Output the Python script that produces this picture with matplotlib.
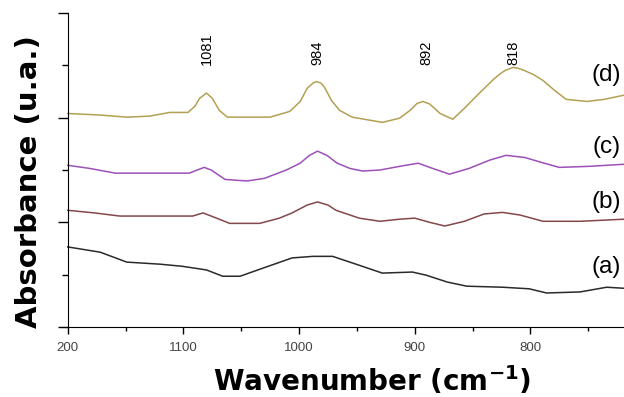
import numpy as np
import matplotlib
matplotlib.use('Agg')
import matplotlib.pyplot as plt
from matplotlib.ticker import MultipleLocator

plt.rcParams['font.family'] = ['Liberation Sans', 'DejaVu Sans']
plt.rcParams['mathtext.fontset'] = 'custom'
plt.rcParams['mathtext.rm'] = 'DejaVu Sans'
plt.rcParams['mathtext.bf'] = 'DejaVu Sans:bold'

# spectra (wavenumber, absorbance in plot units)
wn_d = [1200, 1172, 1149, 1129, 1112, 1096, 1090, 1086, 1080, 1075, 1069, 1062, 1043, 1025,
        1008, 999, 993, 988, 985, 981, 978, 972, 965, 954, 928, 913, 904, 898, 893, 887, 878, 867,
        857, 844, 837, 831, 826, 822, 815, 810, 805, 797, 789, 779, 769, 751, 736, 719]
abs_d = [4.08, 4.05, 4.01, 4.03, 4.10, 4.10, 4.22, 4.37, 4.47, 4.37, 4.14, 4.01, 4.01, 4.01,
         4.12, 4.31, 4.56, 4.66, 4.69, 4.66, 4.58, 4.33, 4.14, 4.01, 3.91, 3.99, 4.14, 4.27, 4.31, 4.26, 4.08, 3.97,
         4.18, 4.47, 4.62, 4.75, 4.84, 4.90, 4.96, 4.94, 4.90, 4.82, 4.71, 4.52, 4.35, 4.31, 4.35, 4.43]

wn_c = [1200, 1181, 1159, 1129, 1095, 1088, 1082, 1076, 1064, 1045, 1030, 1011, 999, 991,
        984, 976, 967, 956, 945, 930, 913, 897, 887, 870, 853, 835, 821, 805, 788, 775, 749, 719]
abs_c = [3.09, 3.03, 2.94, 2.94, 2.94, 3.00, 3.05, 3.00, 2.82, 2.79, 2.84, 3.00, 3.13, 3.28,
         3.36, 3.28, 3.13, 3.03, 2.98, 3.00, 3.07, 3.13, 3.05, 2.92, 3.03, 3.19, 3.28, 3.24, 3.13, 3.05, 3.07, 3.11]

wn_b = [1200, 1177, 1155, 1120, 1092, 1083, 1076, 1060, 1034, 1017, 1006, 993, 984, 975,
        968, 948, 930, 913, 900, 887, 874, 857, 840, 824, 809, 789, 757, 719]
abs_b = [2.23, 2.18, 2.12, 2.12, 2.12, 2.18, 2.12, 1.98, 1.98, 2.08, 2.18, 2.33, 2.39, 2.33,
         2.23, 2.08, 2.02, 2.06, 2.08, 2.00, 1.93, 2.02, 2.16, 2.19, 2.14, 2.02, 2.02, 2.06]

wn_a = [1200, 1172, 1149, 1120, 1101, 1080, 1066, 1051, 1028, 1006, 988, 971, 948, 928,
        902, 890, 872, 855, 824, 801, 786, 757, 734, 719]
abs_a = [1.53, 1.43, 1.24, 1.20, 1.16, 1.09, 0.97, 0.97, 1.15, 1.32, 1.35, 1.35, 1.18, 1.03,
         1.05, 0.99, 0.86, 0.78, 0.76, 0.73, 0.65, 0.67, 0.76, 0.74]

peak_labels = ['1081', '984', '892', '818']
peak_pos = [1080, 984, 890, 815]
curve_names = ['(a)', '(b)', '(c)', '(d)']
curve_label_y = [1.15, 2.39, 3.44, 4.81]
x_ticks = [1200, 1100, 1000, 900, 800]
x_ticklabels = ['200', '1100', '1000', '900', '800']

fig = plt.figure(figsize=(6.24, 3.97), dpi=100)
ax = fig.add_axes([62 / 624, 70 / 397, 562 / 624, 314 / 397])

ax.plot(wn_a, abs_a, color='#2a2a2a', lw=1.1)
ax.plot(wn_b, abs_b, color='#84484a', lw=1.1)
ax.plot(wn_c, abs_c, color='#9c50b8', lw=1.1)
ax.plot(wn_d, abs_d, color='#b4a052', lw=1.1)

for lab, pos in zip(peak_labels, peak_pos):
    ax.text(pos, 5.0, lab, rotation=90, ha='center', va='bottom', fontsize=10.5)

for name, yy in zip(curve_names, curve_label_y):
    ax.text(722, yy, name, ha='right', va='center', fontsize=17.5)

ax.set_xlim(1205, 719)
ax.set_ylim(0, 6)
ax.spines['top'].set_visible(False)
ax.spines['right'].set_visible(False)
ax.spines['left'].set_position(('data', 1200))
ax.spines['left'].set_bounds(0, 6)

ax.set_xticks(x_ticks)
ax.set_xticklabels(x_ticklabels, fontsize=9.5, color='#444444')
ax.xaxis.set_minor_locator(MultipleLocator(50))
ax.set_yticks([0, 2, 4, 6])
ax.set_yticklabels([])
ax.yaxis.set_minor_locator(MultipleLocator(1))
ax.tick_params(axis='x', which='major', length=5, width=1, pad=6)
ax.tick_params(axis='x', which='minor', length=3, width=1)
ax.tick_params(axis='y', which='major', length=7, width=1)
ax.tick_params(axis='y', which='minor', length=4, width=1)

ax.set_xlabel(r'Wavenumber (cm$^{\mathbf{-1}}$)', fontsize=20, fontweight='bold',
              family='DejaVu Sans')
ax.xaxis.set_label_coords(0.552, -0.118)
ax.set_ylabel('Absorbance (u.a.)', fontsize=21, fontweight='bold', family='DejaVu Sans')
ax.yaxis.set_label_coords(-0.034, 0.462)

fig.savefig('out.png', dpi=100)
